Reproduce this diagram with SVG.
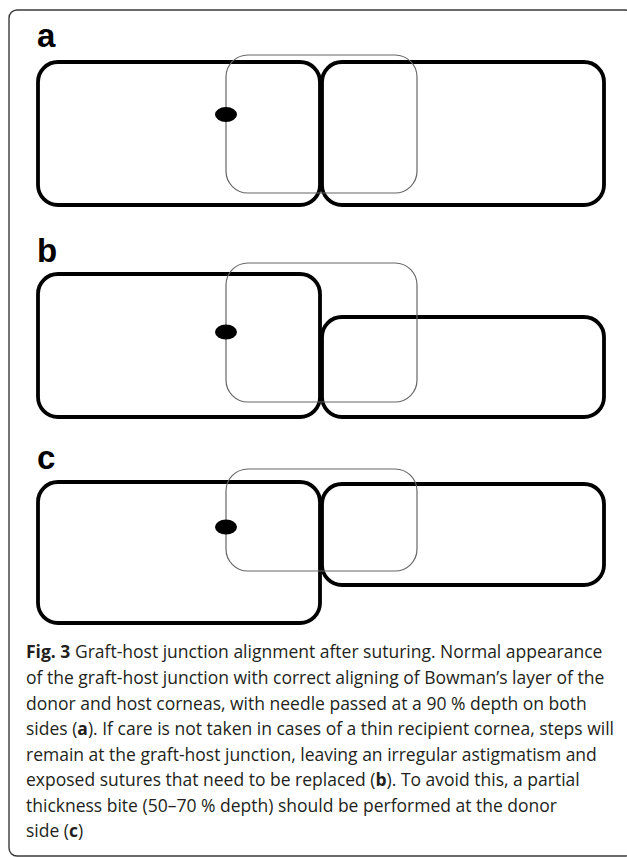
<svg xmlns="http://www.w3.org/2000/svg" width="627" height="857" viewBox="0 0 627 857">
<style>
.frame{fill:none;stroke:#3a3a3a;stroke-width:1.4}
.thick{fill:none;stroke:#000;stroke-width:3.8}
.thin{fill:none;stroke:#666;stroke-width:1.2}
.dot{fill:#000}
.lbl{font-family:"Liberation Sans",Arial,sans-serif;font-weight:bold;font-size:33px;fill:#000}
.cap{font-family:"Open Sans","Noto Sans",sans-serif;font-size:17.5px;fill:#231f20}
.b{font-weight:bold}
</style>
<rect class="frame" x="9" y="10" width="624" height="846" rx="8"/>
<g id="panel-a">
  <text class="lbl" x="37" y="47">a</text>
  <g id="a-left"><rect class="thick" x="38" y="62" width="282" height="143" rx="20"/></g>
  <g id="a-right"><rect class="thick" x="322" y="62" width="282" height="143" rx="20"/></g>
  <g id="a-zone"><rect class="thin" x="226" y="55" width="191" height="138" rx="22"/></g>
  <g id="a-needle"><ellipse class="dot" cx="226" cy="114.5" rx="11" ry="7.5"/></g>
</g>
<g id="panel-b">
  <text class="lbl" x="37" y="262">b</text>
  <g id="b-left"><rect class="thick" x="38" y="274" width="282" height="143" rx="20"/></g>
  <g id="b-right"><rect class="thick" x="322" y="317" width="282" height="100" rx="20"/></g>
  <g id="b-zone"><rect class="thin" x="226" y="263" width="191" height="139" rx="22"/></g>
  <g id="b-needle"><ellipse class="dot" cx="226" cy="332" rx="11" ry="7.5"/></g>
</g>
<g id="panel-c">
  <text class="lbl" x="37" y="469">c</text>
  <g id="c-left"><rect class="thick" x="38" y="482" width="282" height="141" rx="20"/></g>
  <g id="c-right"><rect class="thick" x="322" y="484" width="282" height="101" rx="20"/></g>
  <g id="c-zone"><rect class="thin" x="226" y="469" width="191" height="102" rx="22"/></g>
  <g id="c-needle"><ellipse class="dot" cx="226" cy="527" rx="11" ry="7.5"/></g>
</g>
<g id="caption">
  <text class="cap" x="26" y="658"><tspan class="b">Fig. 3</tspan> Graft-host junction alignment after suturing. Normal appearance</text>
  <text class="cap" x="26" y="684">of the graft-host junction with correct aligning of Bowman’s layer of the</text>
  <text class="cap" x="26" y="709.5">donor and host corneas, with needle passed at a 90 % depth on both</text>
  <text class="cap" x="26" y="735">sides (<tspan class="b">a</tspan>). If care is not taken in cases of a thin recipient cornea, steps will</text>
  <text class="cap" x="26" y="760.5">remain at the graft-host junction, leaving an irregular astigmatism and</text>
  <text class="cap" x="26" y="786">exposed sutures that need to be replaced (<tspan class="b">b</tspan>). To avoid this, a partial</text>
  <text class="cap" x="26" y="811.5">thickness bite (50–70 % depth) should be performed at the donor</text>
  <text class="cap" x="26" y="837">side (<tspan class="b">c</tspan>)</text>
</g>
</svg>
